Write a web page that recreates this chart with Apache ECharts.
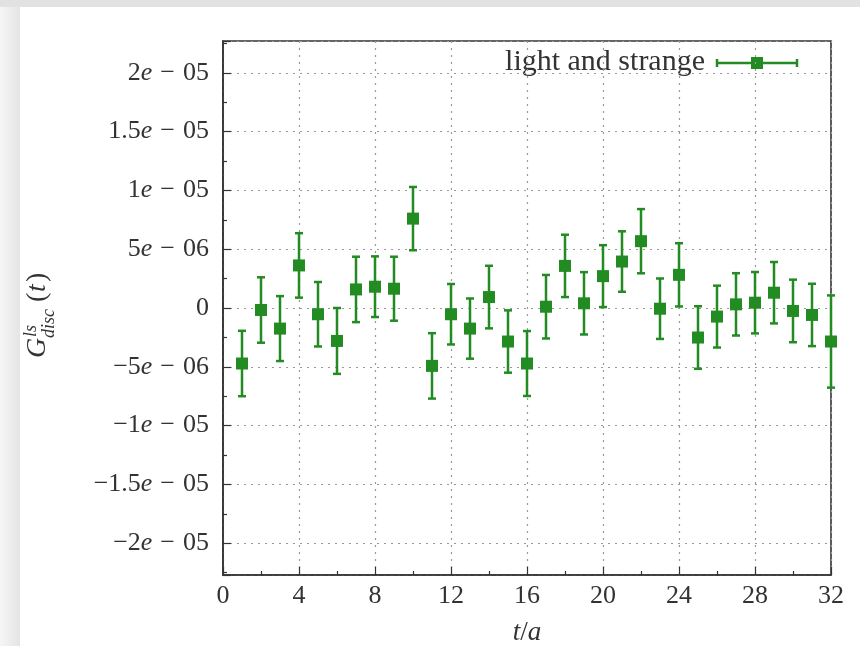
<!DOCTYPE html>
<html>
<head>
<meta charset="utf-8">
<script src="https://cdn.jsdelivr.net/npm/echarts@6/dist/echarts.min.js"></script>
<style>
html,body{margin:0;padding:0;background:#fff;}
#chart{width:860px;height:646px;}
</style>
</head>
<body>
<div id="chart"></div>
<script>
// ---- data ----
const tValues = [1,2,3,4,5,6,7,8,9,10,11,12,13,14,15,16,17,18,19,20,21,22,23,24,25,26,27,28,29,30,31,32];
const gValues = [-4.72e-6,-0.17e-6,-1.75e-6,3.62e-6,-0.53e-6,-2.80e-6,1.58e-6,1.81e-6,1.64e-6,7.60e-6,
                 -4.92e-6,-0.53e-6,-1.75e-6,0.93e-6,-2.85e-6,-4.72e-6,0.11e-6,3.58e-6,0.40e-6,2.71e-6,
                 3.95e-6,5.68e-6,-0.06e-6,2.82e-6,-2.51e-6,-0.73e-6,0.31e-6,0.45e-6,1.30e-6,-0.25e-6,
                 -0.59e-6,-2.85e-6];
const gErrors = [2.78e-6,2.78e-6,2.76e-6,2.74e-6,2.74e-6,2.80e-6,2.78e-6,2.58e-6,2.72e-6,2.69e-6,
                 2.78e-6,2.57e-6,2.56e-6,2.66e-6,2.65e-6,2.76e-6,2.70e-6,2.65e-6,2.65e-6,2.63e-6,
                 2.57e-6,2.73e-6,2.57e-6,2.69e-6,2.66e-6,2.63e-6,2.65e-6,2.61e-6,2.61e-6,2.66e-6,
                 2.65e-6,3.92e-6];
const xTickLabels = ['0','4','8','12','16','20','24','28','32'];
const seriesName = 'light and strange';

const GREEN = '#228B22';
const TXT = '#333';
const FONT = '"Liberation Serif", "DejaVu Serif", serif';

const data = tValues.map((t,i)=>[t, gValues[i], gErrors[i]]);

function yLabel(v){
  if (Math.abs(v) < 1e-12) return '{n|0}';
  const k = v/5e-6;
  if (Math.abs(k - Math.round(k)) > 1e-6) return '';
  const av = Math.abs(v);
  const ex = Math.floor(Math.log10(av) + 1e-9);
  const mant = Math.round(av/Math.pow(10,ex)*10)/10;
  const sign = v < 0 ? '−' : '';
  const es = String(Math.abs(ex)).padStart(2,'0');
  return '{n|' + sign + mant + '}{e|e}{m|−}{n|' + es + '}';
}

const chart = echarts.init(document.getElementById('chart'), null, {renderer:'canvas'});
const option = {
  backgroundColor: '#fff',
  animation: false,
  grid: {left: 223, right: 29, top: 41, bottom: 71, outerBoundsMode: 'none', containLabel: false,
         show: true, borderColor: '#333', borderWidth: 1.6, backgroundColor: 'transparent'},
  xAxis: {
    type: 'value', min: 0, max: 32, interval: 4,
    axisLine: {show: true, onZero: false, lineStyle: {color: '#333', width: 1.6}},
    axisTick: {show: true, inside: true, length: 8, lineStyle: {color: '#333', width: 1.2}},
    minorTick: {show: true, splitNumber: 2, length: 4, lineStyle: {color: '#333', width: 1.2}},
    axisLabel: {fontFamily: FONT, fontSize: 26, color: TXT, margin: 8,
      formatter: (v)=> { const i = Math.round(v/4); return xTickLabels[i] !== undefined ? xTickLabels[i] : ''; }},
    splitLine: {show: true, lineStyle: {color: '#999', width: 1.2, type: [2,5]}},
    name: '{i|t}{n|/}{i|a}', nameLocation: 'middle', nameGap: 44,
    nameTextStyle: {rich: {
      i: {fontFamily: FONT, fontStyle: 'italic', fontSize: 27, color: TXT},
      n: {fontFamily: FONT, fontSize: 27, color: TXT}
    }}
  },
  yAxis: {
    type: 'value', min: -2.27e-5, max: 2.27e-5, splitNumber: 9,
    axisLine: {show: true, onZero: false, lineStyle: {color: '#333', width: 1.6}},
    axisTick: {show: true, inside: true, length: 8, lineStyle: {color: '#333', width: 1.2}},
    minorTick: {show: true, splitNumber: 2, length: 4, lineStyle: {color: '#333', width: 1.2}},
    axisLabel: {margin: 14, formatter: yLabel, showMinLabel: false, showMaxLabel: false,
      rich: {
        n: {fontFamily: FONT, fontSize: 26, color: TXT},
        e: {fontFamily: FONT, fontStyle: 'italic', fontSize: 26, color: TXT},
        m: {fontFamily: FONT, fontSize: 26, color: TXT, padding: [0, 8, 0, 8]}
      }},
    splitLine: {show: true, lineStyle: {color: '#999', width: 1.2, type: [2,5]}}
  },
  series: [
    {
      name: seriesName,
      type: 'custom',
      clip: false,
      z: 3,
      data: data,
      encode: {x: 0, y: 1},
      renderItem: function(params, api){
        const x = api.value(0), y = api.value(1), e = api.value(2);
        const top = api.coord([x, y + e]);
        const bot = api.coord([x, y - e]);
        const cw = 4;
        const st = {stroke: GREEN, lineWidth: 2.5};
        return {type: 'group', children: [
          {type: 'line', shape: {x1: top[0], y1: top[1], x2: bot[0], y2: bot[1]}, style: st},
          {type: 'line', shape: {x1: top[0]-cw, y1: top[1], x2: top[0]+cw, y2: top[1]}, style: st},
          {type: 'line', shape: {x1: bot[0]-cw, y1: bot[1], x2: bot[0]+cw, y2: bot[1]}, style: st}
        ]};
      }
    },
    {
      name: seriesName,
      type: 'scatter',
      clip: false,
      z: 4,
      symbol: 'rect',
      symbolSize: 12,
      itemStyle: {color: GREEN, opacity: 1},
      data: data.map(d => [d[0], d[1]])
    }
  ],
  graphic: [
    // page card border
    {type: 'rect', left: 0, top: 0, shape: {width: 860, height: 7}, style: {fill: '#e2e2e2'}, z: 100, silent: true},
    {type: 'rect', left: 0, top: 7, shape: {width: 20, height: 639},
      style: {fill: new echarts.graphic.LinearGradient(0,0,1,0,[{offset:0,color:'#f6f6f6'},{offset:1,color:'#e4e4e4'}])}, z: 100, silent: true},
    // legend
    {type: 'group', z: 50, children: [
      {type: 'rect', shape: {x: 497, y: 47, width: 315, height: 30}, style: {fill: '#fff'}},
      {type: 'text', x: 705, y: 62, style: {text: seriesName, font: '30px ' + FONT, fill: TXT, align: 'right', verticalAlign: 'middle'}},
      {type: 'line', shape: {x1: 717, y1: 63, x2: 797, y2: 63}, style: {stroke: GREEN, lineWidth: 2.5}},
      {type: 'line', shape: {x1: 717, y1: 59, x2: 717, y2: 67}, style: {stroke: GREEN, lineWidth: 2.5}},
      {type: 'line', shape: {x1: 797, y1: 59, x2: 797, y2: 67}, style: {stroke: GREEN, lineWidth: 2.5}},
      {type: 'rect', shape: {x: 751, y: 57, width: 12, height: 12}, style: {fill: GREEN}}
    ]},
    // y axis title
    {type: 'group', x: 52, y: 358, rotation: Math.PI/2, z: 50, children: [
      {type: 'text', x: 0, y: 0, style: {text: 'G', font: 'italic 28px ' + FONT, fill: TXT, verticalAlign: 'bottom'}},
      {type: 'text', x: 21, y: -12, style: {text: 'ls', font: 'italic 18px ' + FONT, fill: TXT, verticalAlign: 'bottom'}},
      {type: 'text', x: 20, y: 6, style: {text: 'disc', font: 'italic 18px ' + FONT, fill: TXT, verticalAlign: 'bottom'}},
      {type: 'text', x: 56, y: 0, style: {text: '(', font: '28px ' + FONT, fill: TXT, verticalAlign: 'bottom'}},
      {type: 'text', x: 66, y: 0, style: {text: 't', font: 'italic 28px ' + FONT, fill: TXT, verticalAlign: 'bottom'}},
      {type: 'text', x: 76, y: 0, style: {text: ')', font: '28px ' + FONT, fill: TXT, verticalAlign: 'bottom'}}
    ]}
  ]
};
chart.setOption(option);
</script>
</body>
</html>
